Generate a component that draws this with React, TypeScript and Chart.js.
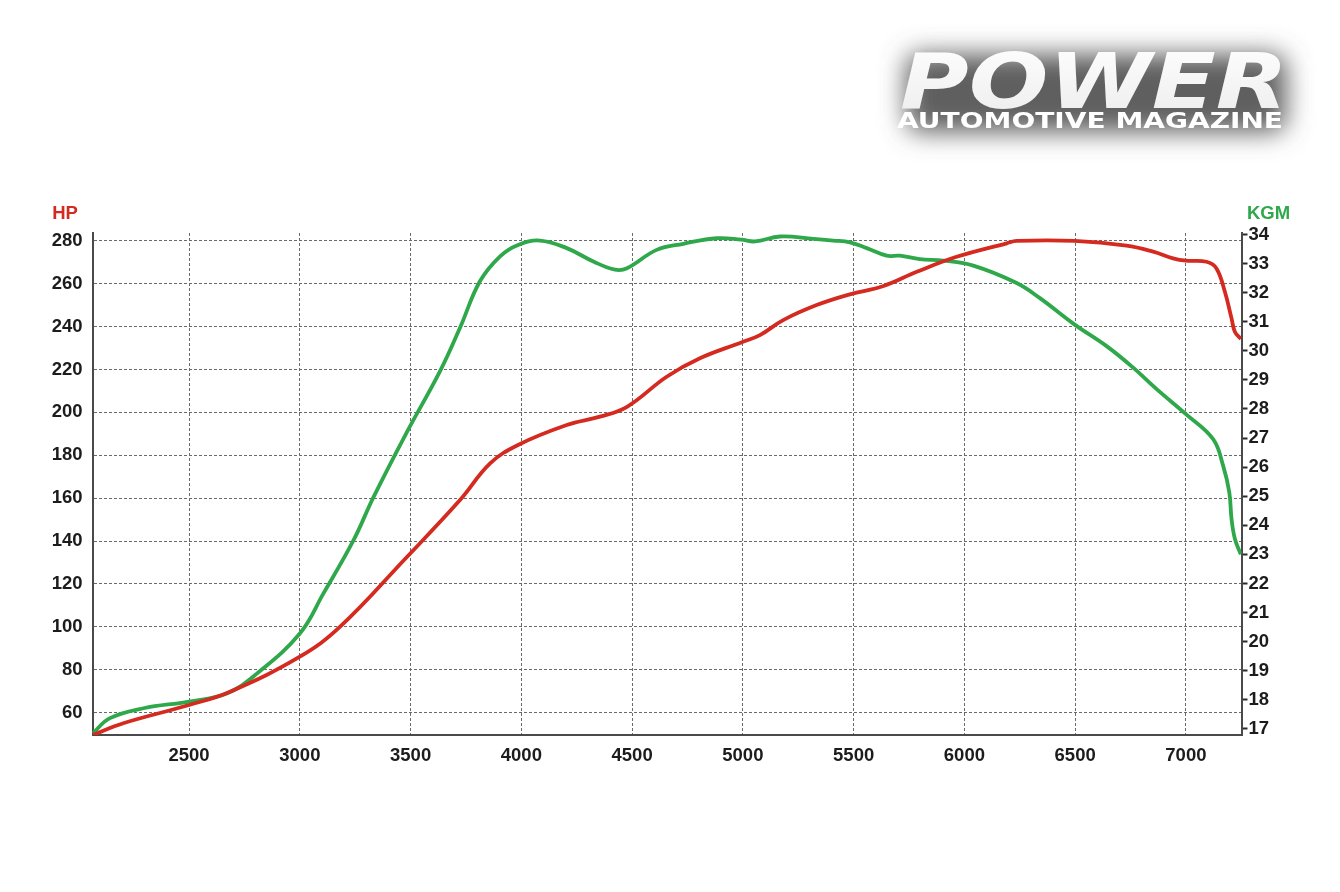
import React, { useEffect, useRef } from "react";
import { Chart, registerables } from "chart.js";

Chart.register(...registerables);

// ---- data ----
const rpmTicks = [2500, 3000, 3500, 4000, 4500, 5000, 5500, 6000, 6500, 7000];
const hpTicks = [60, 80, 100, 120, 140, 160, 180, 200, 220, 240, 260, 280];
const kgmTicks = [17, 18, 19, 20, 21, 22, 23, 24, 25, 26, 27, 28, 29, 30, 31, 32, 33, 34];

const hpRpm = [
  2065, 2203, 2500, 2685, 3000, 3182, 3478, 3723, 3859, 3985, 4205, 4355, 4477,
  4656, 4806, 4993, 5077, 5182, 5333, 5483, 5635, 5785, 5965, 6191, 6236, 6498,
  6732, 6852, 6942, 7000, 7093, 7138, 7176, 7206, 7221, 7248,
];
const hpValues = [
  49.6, 55.1, 63.6, 69.8, 86.1, 100.1, 132, 159.1, 176.2, 184.8, 194.1, 198, 202.6,
  216.6, 225.2, 232.6, 236, 243, 250, 255, 258.9, 265.5, 272.5, 278.8, 279.9, 279.9,
  277.7, 274.9, 271.8, 270.7, 270.2, 267.1, 256.2, 243.8, 237.6, 234.2,
];

const kgmRpm = [
  2065, 2143, 2294, 2500, 2670, 2806, 3000, 3106, 3242, 3332, 3478, 3633, 3723,
  3813, 3904, 3985, 4084, 4205, 4325, 4423, 4477, 4611, 4731, 4882, 4993, 5055,
  5168, 5318, 5408, 5483, 5559, 5649, 5709, 5799, 5905, 6040, 6236, 6341, 6498,
  6642, 6762, 6868, 7000, 7123, 7168, 7196, 7206, 7221, 7248,
];
const kgmValues = [
  16.85, 17.37, 17.71, 17.94, 18.22, 18.9, 20.28, 21.65, 23.48, 24.96, 27.13, 29.3, 30.79,
  32.39, 33.25, 33.64, 33.79, 33.53, 33.07, 32.79, 32.84, 33.47, 33.68, 33.87, 33.82, 33.76,
  33.93, 33.85, 33.79, 33.73, 33.53, 33.27, 33.27, 33.15, 33.1, 32.93, 32.33, 31.81, 30.9,
  30.16, 29.42, 28.68, 27.82, 26.96, 26.05, 25.13, 24.22, 23.54, 23.0,
];

const FONT = "'Liberation Sans', Arial, sans-serif";
const RED = "#d42a20";
const GREEN = "#2ea84a";

const titlesPlugin = {
  id: "axisTitles",
  afterDraw(chart: any) {
    const ctx = chart.ctx;
    ctx.save();
    ctx.font = `bold 18.5px ${FONT}`;
    ctx.textBaseline = "middle";
    ctx.textAlign = "center";
    ctx.fillStyle = RED;
    ctx.fillText("HP", 65, 214);
    ctx.fillStyle = GREEN;
    ctx.fillText("KGM", 1268.5, 214);
    ctx.restore();
  },
};

export default function App() {
  const ref = useRef<HTMLCanvasElement | null>(null);

  useEffect(() => {
    if (!ref.current) return;
    const tickFont = { family: FONT, size: 18.5, weight: "bold" as const };
    const chart = new Chart(ref.current, {
      type: "line",
      data: {
        datasets: [
          {
            label: "HP",
            data: hpRpm.map((x, i) => ({ x, y: hpValues[i] })),
            yAxisID: "yHp",
            borderColor: RED,
            borderWidth: 3.8,
            pointRadius: 0,
            tension: 0.4,
            fill: false,
          },
          {
            label: "KGM",
            data: kgmRpm.map((x, i) => ({ x, y: kgmValues[i] })),
            yAxisID: "yKgm",
            borderColor: GREEN,
            borderWidth: 3.8,
            pointRadius: 0,
            tension: 0.4,
            fill: false,
          },
        ],
      },
      options: {
        animation: false,
        responsive: false,
        maintainAspectRatio: false,
        layout: { padding: { top: 233, left: 0, right: 0, bottom: 0 } },
        plugins: { legend: { display: false }, tooltip: { enabled: false } },
        scales: {
          x: {
            type: "linear",
            min: 2064,
            max: 7251,
            afterBuildTicks: (s: any) => {
              s.ticks = rpmTicks.map((v) => ({ value: v }));
            },
            afterFit: (s: any) => {
              s.height = 157;
            },
            grid: { color: "#6a6a6a", lineWidth: 1, drawTicks: false },
            border: { display: true, color: "#4a4a4a", width: 2, dash: [3, 2] },
            ticks: {
              padding: 10,
              font: tickFont,
              color: "#1c1c1c",
              autoSkip: false,
              maxRotation: 0,
              callback: (v: any) => String(v),
            },
          },
          yHp: {
            type: "linear",
            position: "left",
            min: 49.6,
            max: 283.6,
            afterBuildTicks: (s: any) => {
              s.ticks = hpTicks.map((v) => ({ value: v }));
            },
            afterFit: (s: any) => {
              s.width = 92.5;
            },
            grid: { color: "#6a6a6a", lineWidth: 1, drawTicks: false },
            border: { display: true, color: "#4a4a4a", width: 2, dash: [3, 2] },
            ticks: {
              padding: 10,
              font: tickFont,
              color: "#1c1c1c",
              autoSkip: false,
              callback: (v: any) => String(v),
            },
          },
          yKgm: {
            type: "linear",
            position: "right",
            min: 16.79,
            max: 34.05,
            afterBuildTicks: (s: any) => {
              s.ticks = kgmTicks.map((v) => ({ value: v }));
            },
            afterFit: (s: any) => {
              s.width = 98.5;
            },
            grid: {
              drawOnChartArea: false,
              drawTicks: true,
              tickLength: 6,
              tickColor: "#2a2a2a",
              tickWidth: 2,
              tickBorderDash: [],
            },
            border: { display: true, color: "#4a4a4a", width: 2 },
            ticks: {
              padding: 1,
              font: tickFont,
              color: "#1c1c1c",
              autoSkip: false,
              callback: (v: any) => String(v),
            },
          },
        },
      },
      plugins: [titlesPlugin],
    } as any);
    return () => chart.destroy();
  }, []);

  return (
    <div
      style={{
        position: "absolute",
        left: 0,
        top: 0,
        width: 1340,
        height: 892,
        overflow: "hidden",
        background: "#ffffff",
      }}
    >
      <canvas ref={ref} width={1340} height={892} style={{ position: "absolute", left: 0, top: 0 }} />
      <svg
        style={{ position: "absolute", left: 860, top: 20 }}
        width={480}
        height={160}
      >
        <defs>
          <filter id="blurbg" x="-30%" y="-60%" width="160%" height="220%">
            <feGaussianBlur stdDeviation="13" />
          </filter>
          <linearGradient id="txtgrad" x1="0" y1="0" x2="0" y2="1">
            <stop offset="0" stopColor="#ffffff" />
            <stop offset="1" stopColor="#ececec" />
          </linearGradient>
        </defs>
        <rect x={46} y={34} width={380} height={78} rx={14} fill="#5e5e5e" filter="url(#blurbg)" />
        <text
          x={40}
          y={88}
          fontFamily="'DejaVu Sans', sans-serif"
          fontWeight="bold"
          fontStyle="italic"
          fontSize={77}
          fill="url(#txtgrad)"
          textLength={388}
          lengthAdjust="spacingAndGlyphs"
        >
          POWER
        </text>
        <text
          x={37}
          y={108}
          fontFamily="'DejaVu Sans', sans-serif"
          fontWeight="bold"
          fontSize={21}
          fill="#ffffff"
          textLength={386}
          lengthAdjust="spacingAndGlyphs"
        >
          AUTOMOTIVE MAGAZINE
        </text>
      </svg>
    </div>
  );
}
